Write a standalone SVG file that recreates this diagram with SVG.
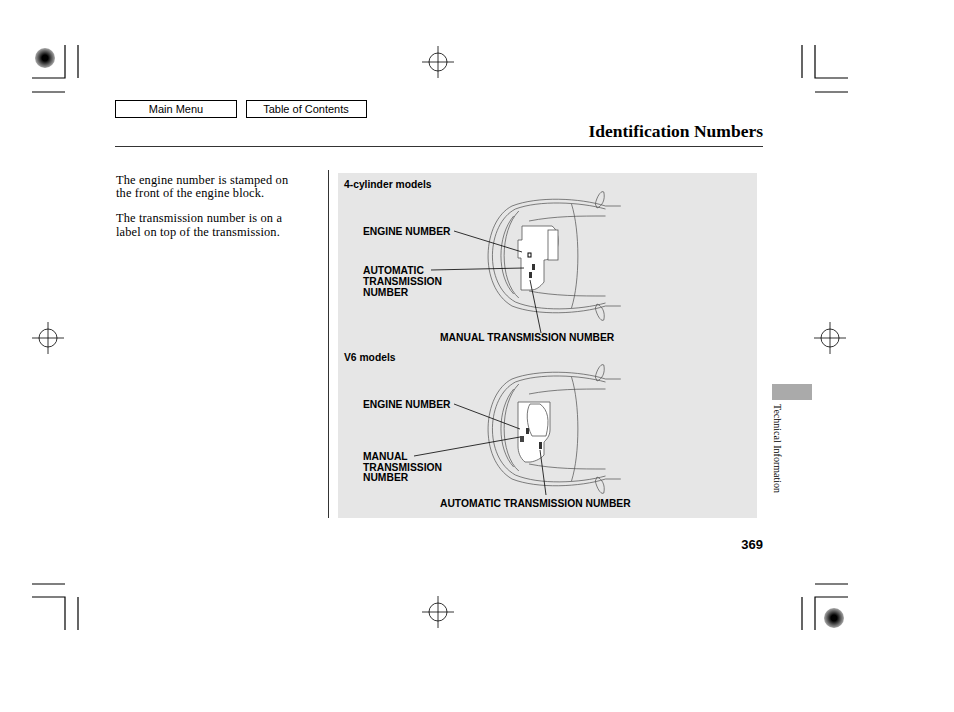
<svg xmlns="http://www.w3.org/2000/svg" width="954" height="712" viewBox="0 0 954 712">
<style>
.k{stroke:#000;stroke-width:1.2;fill:none}
.s{font-family:"Liberation Sans",Arial,sans-serif;font-size:10.3px;font-weight:bold}
.t{font-family:"Liberation Serif",serif;font-size:12.4px;letter-spacing:0.15px}
.c{stroke:#555;stroke-width:0.8;fill:none}
.l{stroke:#000;stroke-width:0.8;fill:none}
</style>
<defs>
<g id="cross"><circle r="9" class="l"/><path d="M-16 0H16M0 -16V16" class="l"/></g>
<radialGradient id="g"><stop offset="0.3" stop-color="#000"/><stop offset="1" stop-color="#aaa"/></radialGradient>
<g id="car">
<path d="M150 30 C120 22 70 20 40 30 C5 45 0 110 40 130 C70 140 120 138 150 130" class="c"/>
<path d="M150 33 C120 26 72 24 44 33 C10 48 6 108 44 126 C72 136 120 134 150 127" class="c"/>
<path d="M48 35 C25 55 25 105 48 122" class="c"/>
<path d="M42 40 C22 60 22 100 42 118" class="c"/>
<path d="M60 45 C90 40 120 40 150 40 M60 115 C90 120 120 120 150 120" class="c"/>
<path d="M110 28 C120 55 120 105 110 132" class="c"/>
<path d="M150 30 L168 30 M150 130 L168 130" class="c"/>
<path d="M138 28 C140 20 145 14 148 16 C150 24 146 30 140 32Z M138 132 C140 140 145 146 148 144 C150 136 146 130 140 128Z" class="c" fill="#fff"/>
</g>
</defs>
<rect width="954" height="712" fill="#fff"/>
<g id="marks">
<path d="M65 45V78H32M78 45V78M32 92H65M802 45V78M815 45V78H848M815 92H848M32 584H65M32 597H65V630M78 597V630M815 584H848M802 597V630M815 630V597H848" class="k"/>
<circle cx="45" cy="58" r="10" fill="url(#g)"/><circle cx="834" cy="618" r="10" fill="url(#g)"/>
<use href="#cross" x="438" y="62"/><use href="#cross" x="438" y="612"/><use href="#cross" x="48" y="338"/><use href="#cross" x="830" y="338"/>
</g>
<g id="btn-main"><rect x="115.5" y="100.5" width="121" height="17" fill="#fff" stroke="#000"/><text x="176" y="113" text-anchor="middle" font-family="Liberation Sans,Arial,sans-serif" font-size="11">Main Menu</text></g>
<g id="btn-toc"><rect x="246.5" y="100.5" width="120" height="17" fill="#fff" stroke="#000"/><text x="306" y="113" text-anchor="middle" font-family="Liberation Sans,Arial,sans-serif" font-size="11">Table of Contents</text></g>
<text x="763" y="137" text-anchor="end" font-family="Liberation Serif,serif" font-size="17.5" font-weight="bold">Identification Numbers</text>
<path d="M115 146.5H763M328.5 170V518" class="l"/>
<text class="t" x="116" y="184">The engine number is stamped on</text>
<text class="t" x="116" y="197">the front of the engine block.</text>
<text class="t" x="116" y="222">The transmission number is on a</text>
<text class="t" x="116" y="236">label on top of the transmission.</text>
<rect x="338" y="173" width="419" height="345" fill="#e6e6e6"/>
<rect x="772" y="384" width="40" height="16" fill="#aaa"/>
<text transform="translate(774 404) rotate(90)" font-family="Liberation Serif,serif" font-size="10">Technical Information</text>
<text x="763" y="549" text-anchor="end" font-family="Liberation Sans,Arial,sans-serif" font-size="13" font-weight="bold">369</text>
<g id="car1"><use href="#car" transform="translate(478 176) scale(0.85 1)"/>
<path d="M522 226H552C558 230 560 240 556 254C552 258 547 260 544 260V282C540 287 536 290 531 290H521V258H518V240H522Z" fill="#fff" stroke="#555" stroke-width="0.8"/>
<rect x="548" y="230" width="10" height="30" fill="#fff" stroke="#555" stroke-width="0.8"/>
<rect x="528" y="253" width="3" height="4" stroke="#000" fill="#fff"/><rect x="532" y="264" width="3" height="6" fill="#333"/><rect x="529" y="272" width="3" height="6" fill="#333"/>
</g>
<g id="car2"><use href="#car" transform="translate(478 349) scale(0.85 1)"/>
<path d="M518 402H550V430C550 436 546 440 544 442V455C540 460 532 462 530 462H525C520 458 518 452 518 446Z" fill="#fff" stroke="#555" stroke-width="0.8"/>
<path d="M530 404C526 410 526 425 532 436H546C550 420 548 410 540 404Z" fill="#fff" stroke="#555" stroke-width="0.8"/>
<rect x="526" y="428" width="3" height="6" fill="#333"/><rect x="520" y="436" width="4" height="6" fill="#444"/><rect x="539" y="442" width="3" height="7" fill="#333"/>
</g>
<g id="connectors">
<path d="M454 231L522 252M431 270L524 268M541 333L530 280M454 404L520 429M414 456L520 437M546 495L540 450" class="l"/>
</g>
<g id="labels">
<text class="s" x="363" y="235">ENGINE NUMBER</text>
<text class="s" x="344" y="188">4-cylinder models</text>
<text class="s" x="363" y="274">AUTOMATIC</text><text class="s" x="363" y="285">TRANSMISSION</text><text class="s" x="363" y="296">NUMBER</text>
<text class="s" x="440" y="341">MANUAL TRANSMISSION NUMBER</text>
<text class="s" x="344" y="361">V6 models</text>
<text class="s" x="363" y="408">ENGINE NUMBER</text>
<text class="s" x="363" y="460">MANUAL</text><text class="s" x="363" y="471">TRANSMISSION</text><text class="s" x="363" y="481">NUMBER</text>
<text class="s" x="440" y="507">AUTOMATIC TRANSMISSION NUMBER</text>
</g>
</svg>
